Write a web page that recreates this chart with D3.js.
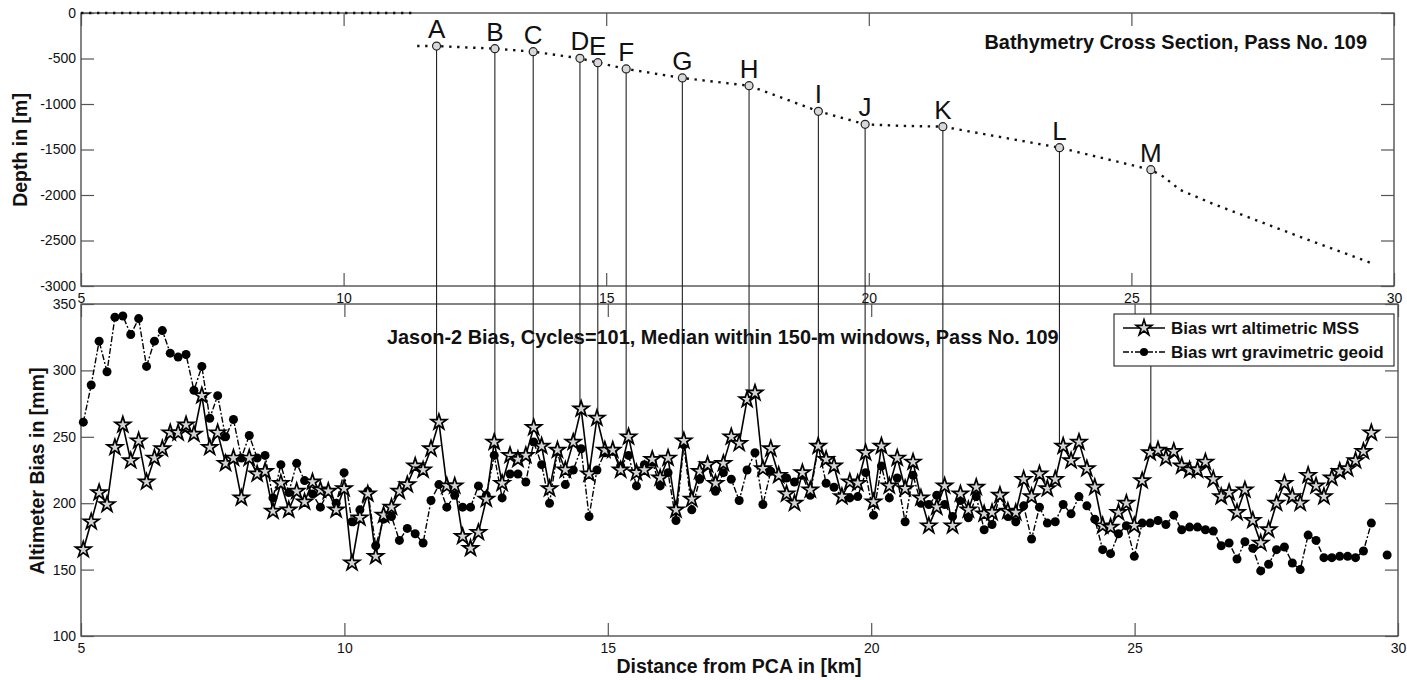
<!DOCTYPE html>
<html>
<head>
<meta charset="utf-8">
<script src="https://cdn.jsdelivr.net/npm/d3@7"></script>
<style>
  body { margin: 0; background: #fff; }
  svg { display: block; }
</style>
</head>
<body>
<script>
// Station labels along the bathymetry profile
const stationLabels = ["A", "B", "C", "D", "E", "F", "G", "H", "I", "J", "K", "L", "M"];
const stationDist = [11.77, 12.88, 13.61, 14.5, 14.84, 15.38, 16.45, 17.72, 19.04, 19.93, 21.41, 23.63, 25.37];
const stationDepth = [-363, -392, -425, -498, -546, -615, -714, -799, -1080, -1223, -1249, -1480, -1722];

// Land part (depth 0) and sea floor profile
const shoreDist = [5.0, 11.32];
const shoreDepth = [0, 0];
const profileDist = [11.4, 11.77, 12.88, 13.61, 14.5, 14.84, 15.38, 16.45, 17.72, 19.04, 19.93, 20.6, 21.41,
  23.63, 25.37, 25.61, 25.93, 26.56, 27.2, 27.83, 28.46, 29.1, 29.58];
const profileDepth = [-362, -363, -392, -425, -498, -546, -615, -714, -799, -1080, -1223, -1240, -1249,
  -1480, -1722, -1799, -1945, -2099, -2238, -2377, -2513, -2648, -2751];

// Bias samples, every 150 m starting at 5.044 km
const distStart = 5.044;
const distStep = 0.15;

const mssBias = [
  165, 186, 208, 199, 242, 259, 232, 247, 216, 234,
  241, 253, 253, 259, 252, 281, 242, 253, 230, 234,
  204, 234, 222, 224, 194, 215, 195, 209, 201, 216,
  210, 209, 195, 211, 155, 189, 207, 160, 191, 197,
  209, 214, 228, 225, 241, 261, 213, 213, 175, 166,
  178, 203, 246, 215, 236, 233, 236, 257, 243, 211,
  240, 225, 246, 271, 222, 264, 240, 240, 225, 250,
  223, 225, 233, 219, 234, 195, 247, 203, 224, 229,
  215, 230, 250, 245, 278, 283, 226, 241, 221, 207,
  200, 223, 210, 243, 233, 228, 205, 216, 215, 238,
  201, 243, 213, 234, 211, 231, 204, 183, 197, 213,
  183, 207, 195, 212, 192, 193, 206, 194, 193, 218,
  205, 222, 211, 218, 243, 232, 246, 226, 212, 183,
  182, 193, 200, 183, 217, 238, 240, 234, 239, 228,
  225, 225, 231, 218, 205, 208, 193, 210, 187, 170,
  180, 200, 215, 205, 200, 221, 213, 205, 219, 224,
  226, 232, 239, 253
];

const geoidBias = [
  261, 289, 322, 299, 340, 341, 327, 339, 303, 322,
  330, 313, 310, 312, 285, 303, 264, 281, 250, 263,
  234, 251, 234, 236, 204, 229, 208, 230, 217, 207,
  197, 209, 200, 223, 186, 195, 209, 168, 188, 190,
  172, 181, 177, 170, 202, 214, 197, 206, 197, 197,
  213, 206, 236, 204, 222, 222, 216, 246, 229, 200,
  239, 214, 225, 241, 190, 225, 238, 239, 228, 236,
  213, 229, 231, 213, 223, 187, 244, 195, 218, 229,
  209, 223, 218, 202, 225, 238, 199, 224, 221, 219,
  216, 221, 206, 243, 215, 212, 205, 204, 205, 223,
  191, 228, 204, 219, 186, 221, 200, 199, 206, 199,
  190, 202, 189, 205, 180, 184, 206, 190, 186, 198,
  173, 197, 185, 186, 199, 192, 205, 198, 188, 165,
  162, 177, 183, 160, 185, 185, 187, 184, 191, 180,
  182, 182, 180, 179, 168, 170, 158, 171, 166, 149,
  154, 165, 167, 155, 150, 176, 172, 159, 159, 160,
  160, 159, 164, 185, null, 161
];

// Stray grey marker left in the lower panel
const strayMarker = [14.42, 323];

const xTicks = [5, 10, 15, 20, 25, 30];
const depthTicks = [0, -500, -1000, -1500, -2000, -2500, -3000];
const biasTicks = [100, 150, 200, 250, 300, 350];

const legendLabels = ["Bias wrt altimetric MSS", "Bias wrt gravimetric geoid"];

const font = "'Liberation Sans', Arial, Helvetica, sans-serif";
const width = 1407;
const height = 680;

// Scales (two stacked panels)
const xTop = d3.scaleLinear().domain([5, 30]).range([81, 1394]);
const yTop = d3.scaleLinear().domain([0, -3000]).range([13, 286]);
const xBot = d3.scaleLinear().domain([5, 30]).range([81, 1398]);
const yBot = d3.scaleLinear().domain([100, 350]).range([636, 304]);

const svg = d3
  .select("body")
  .append("svg")
  .attr("width", width)
  .attr("height", height)
  .attr("viewBox", [0, 0, width, height])
  .style("font-family", font);

svg.append("rect").attr("width", width).attr("height", height).attr("fill", "#fff");

// MATLAB-like box with inward ticks on all four sides
function axesBox(x, y, yTickValues) {
  const [left, right] = x.range();
  const top = Math.min(...y.range());
  const bottom = Math.max(...y.range());
  const tick = 13;
  const g = svg.append("g");

  g.append("rect")
    .attr("x", left)
    .attr("y", top)
    .attr("width", right - left)
    .attr("height", bottom - top)
    .attr("fill", "none")
    .attr("stroke", "#333")
    .attr("stroke-width", 1.2);

  g.append("g")
    .attr("transform", `translate(0,${bottom})`)
    .call(d3.axisBottom(x).tickValues(xTicks).tickSize(-tick).tickSizeOuter(0).tickPadding(7).tickFormat((d) => String(d)));
  g.append("g")
    .attr("transform", `translate(0,${top})`)
    .call(d3.axisTop(x).tickValues(xTicks).tickSize(-tick).tickSizeOuter(0).tickFormat(""));
  g.append("g")
    .attr("transform", `translate(${left},0)`)
    .call(d3.axisLeft(y).tickValues(yTickValues).tickSize(-tick).tickSizeOuter(0).tickPadding(5).tickFormat((d) => String(d)));
  g.append("g")
    .attr("transform", `translate(${right},0)`)
    .call(d3.axisRight(y).tickValues(yTickValues).tickSize(-tick).tickSizeOuter(0).tickFormat(""));

  g.selectAll(".domain").remove();
  g.selectAll(".tick line").attr("stroke", "#555").attr("stroke-width", 1.2);
  g.selectAll("g").attr("font-family", font).attr("font-size", 14);
  g.selectAll(".tick text").attr("fill", "#111");
  return g;
}

axesBox(xTop, yTop, depthTicks);
axesBox(xBot, yBot, biasTicks);

// Vertical guide lines from each station down to the MSS bias curve
const nearestIndex = (d) => Math.round((d - distStart) / distStep);
svg
  .append("g")
  .selectAll("line")
  .data(stationDist)
  .join("line")
  .attr("x1", (d) => xTop(d))
  .attr("x2", (d) => xTop(d))
  .attr("y1", (d, i) => yTop(stationDepth[i]))
  .attr("y2", (d) => yBot(mssBias[nearestIndex(d)]))
  .attr("stroke", "#222")
  .attr("stroke-width", 1.1);

// Bathymetry profile (dotted)
const depthLine = d3.line().x((d) => xTop(d[0])).y((d) => yTop(d[1]));
[d3.zip(shoreDist, shoreDepth), d3.zip(profileDist, profileDepth)].forEach((pts) => {
  svg
    .append("path")
    .attr("d", depthLine(pts))
    .attr("fill", "none")
    .attr("stroke", "#111")
    .attr("stroke-width", 2.4)
    .attr("stroke-dasharray", "2.4,5.6");
});

// Station markers and letters
svg
  .append("g")
  .selectAll("circle")
  .data(stationDist)
  .join("circle")
  .attr("cx", (d) => xTop(d))
  .attr("cy", (d, i) => yTop(stationDepth[i]))
  .attr("r", 4)
  .attr("fill", "#d8d8d8")
  .attr("stroke", "#222")
  .attr("stroke-width", 1.2);

svg
  .append("g")
  .selectAll("text")
  .data(stationLabels)
  .join("text")
  .attr("x", (d, i) => xTop(stationDist[i]))
  .attr("y", (d, i) => yTop(stationDepth[i]) - 8)
  .attr("text-anchor", "middle")
  .attr("font-size", 26)
  .attr("fill", "#111")
  .text((d) => d);

// Bias series
const distAt = (i) => distStart + i * distStep;
const biasLine = d3
  .line()
  .defined((d) => d != null)
  .x((d, i) => xBot(distAt(i)))
  .y((d) => yBot(d));

svg
  .append("path")
  .attr("d", biasLine(geoidBias))
  .attr("fill", "none")
  .attr("stroke", "#000")
  .attr("stroke-width", 1.4)
  .attr("stroke-dasharray", "6,2,2,2");

svg
  .append("path")
  .attr("d", biasLine(mssBias))
  .attr("fill", "none")
  .attr("stroke", "#000")
  .attr("stroke-width", 1.6);

svg
  .append("g")
  .selectAll("circle")
  .data(geoidBias.map((v, i) => [i, v]).filter((d) => d[1] != null))
  .join("circle")
  .attr("cx", (d) => xBot(distAt(d[0])))
  .attr("cy", (d) => yBot(d[1]))
  .attr("r", 4.5)
  .attr("fill", "#000");

const star = d3.symbol().type(d3.symbolStar).size(76);
svg
  .append("g")
  .selectAll("path")
  .data(mssBias)
  .join("path")
  .attr("transform", (d, i) => `translate(${xBot(distAt(i))},${yBot(d)})`)
  .attr("d", star)
  .attr("fill", "#d4d4d4")
  .attr("stroke", "#000")
  .attr("stroke-width", 1.7);

svg
  .append("circle")
  .attr("cx", xBot(strayMarker[0]))
  .attr("cy", yBot(strayMarker[1]))
  .attr("r", 3)
  .attr("fill", "#bbb")
  .attr("stroke", "#999");

// Titles
svg
  .append("text")
  .attr("x", 1367)
  .attr("y", 49)
  .attr("text-anchor", "end")
  .attr("font-size", 19.9)
  .attr("font-weight", "bold")
  .attr("fill", "#111")
  .text("Bathymetry Cross Section, Pass No. 109");

svg
  .append("text")
  .attr("x", 387)
  .attr("y", 344)
  .attr("text-anchor", "start")
  .attr("font-size", 19.9)
  .attr("font-weight", "bold")
  .attr("fill", "#111")
  .text("Jason-2 Bias, Cycles=101, Median within 150-m windows, Pass No. 109");

// Axis labels
svg
  .append("text")
  .attr("transform", "translate(20,150) rotate(-90)")
  .attr("dy", "0.35em")
  .attr("text-anchor", "middle")
  .attr("font-size", 19.5)
  .attr("font-weight", "bold")
  .attr("fill", "#111")
  .text("Depth in [m]");

svg
  .append("text")
  .attr("transform", "translate(37,471) rotate(-90)")
  .attr("dy", "0.35em")
  .attr("text-anchor", "middle")
  .attr("font-size", 19.5)
  .attr("font-weight", "bold")
  .attr("fill", "#111")
  .text("Altimeter Bias in [mm]");

svg
  .append("text")
  .attr("x", 739)
  .attr("y", 673)
  .attr("text-anchor", "middle")
  .attr("font-size", 19.5)
  .attr("font-weight", "bold")
  .attr("fill", "#111")
  .text("Distance from PCA in [km]");

// Legend
const legend = svg.append("g");
legend
  .append("rect")
  .attr("x", 1114)
  .attr("y", 314)
  .attr("width", 280)
  .attr("height", 52)
  .attr("fill", "#fff")
  .attr("stroke", "#222")
  .attr("stroke-width", 1.1);

const rowY = [328, 352];
legend
  .append("line")
  .attr("x1", 1123).attr("x2", 1165)
  .attr("y1", rowY[0]).attr("y2", rowY[0])
  .attr("stroke", "#000")
  .attr("stroke-width", 1.6);
legend
  .append("path")
  .attr("transform", `translate(1144,${rowY[0]})`)
  .attr("d", star)
  .attr("fill", "#d4d4d4")
  .attr("stroke", "#000")
  .attr("stroke-width", 1.7);
legend
  .append("line")
  .attr("x1", 1123).attr("x2", 1165)
  .attr("y1", rowY[1]).attr("y2", rowY[1])
  .attr("stroke", "#000")
  .attr("stroke-width", 1.4)
  .attr("stroke-dasharray", "6,2,2,2");
legend
  .append("circle")
  .attr("cx", 1144)
  .attr("cy", rowY[1])
  .attr("r", 4)
  .attr("fill", "#000");

legend
  .selectAll("text")
  .data(legendLabels)
  .join("text")
  .attr("x", 1171)
  .attr("y", (d, i) => rowY[i])
  .attr("dy", "0.35em")
  .attr("font-size", 17)
  .attr("font-weight", "bold")
  .attr("fill", "#111")
  .text((d) => d);
</script>
</body>
</html>
